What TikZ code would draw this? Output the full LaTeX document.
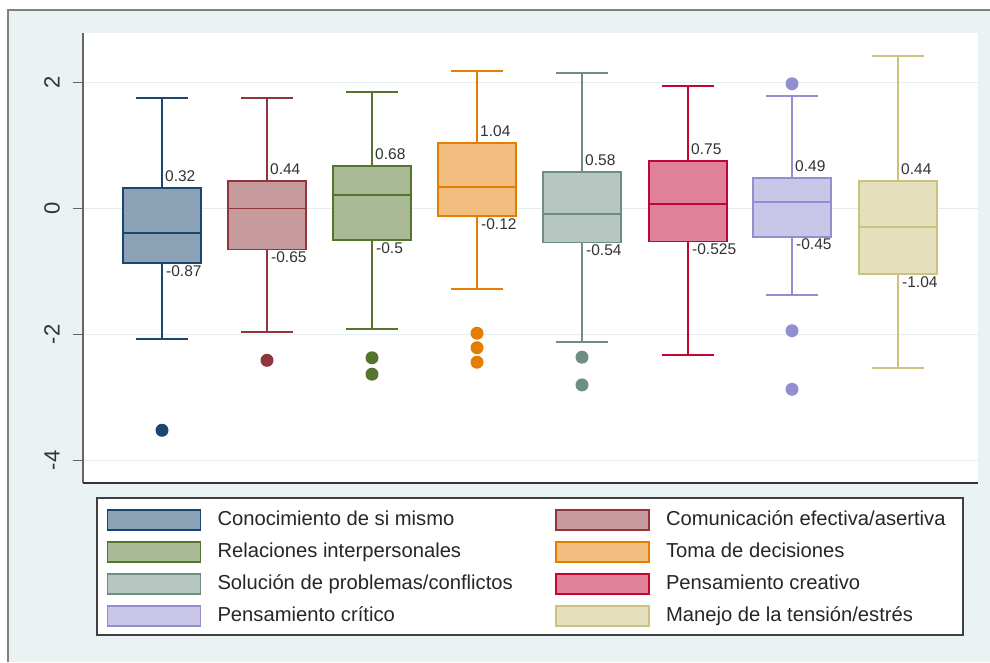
\documentclass[tikz,border=0pt]{standalone}
\usepackage{fontspec}
\setmainfont{Liberation Sans}
\usepackage{tikz}
\usetikzlibrary{positioning}
\usepackage{xcolor}
\definecolor{sknavy}{RGB}{26,71,111}
\definecolor{skmaroon}{RGB}{144,53,59}
\definecolor{skgreen}{RGB}{85,117,47}
\definecolor{skorange}{RGB}{227,126,0}
\definecolor{skteal}{RGB}{110,142,132}
\definecolor{skcranberry}{RGB}{193,5,52}
\definecolor{sklavender}{RGB}{147,141,210}
\definecolor{skkhaki}{RGB}{202,194,126}
\definecolor{skbg}{RGB}{234,242,243}
\definecolor{skgrid}{RGB}{228,238,240}
\definecolor{sktext}{RGB}{50,50,50}
\tikzstyle{whisker} = [line width=1.8pt]
\tikzstyle{boxline} = [line width=1.8pt]
\tikzstyle{qlabel} = [font=\fontsize{15.5}{18}\selectfont, text=sktext, inner sep=2pt]
\tikzstyle{ticklabel} = [font=\fontsize{22}{26}\selectfont, text=sktext, rotate=90]
\tikzstyle{legkey} = [rectangle, minimum width=93pt, minimum height=20pt, line width=1.6pt, inner sep=0pt]
\tikzstyle{legtext} = [font=\fontsize{20.2}{24}\selectfont, text=black!85, inner sep=0pt, text height=14.6pt, text depth=4.2pt, anchor=west]

% one box: name, x, colour, low whisker, Q1, median, Q3, high whisker
\newcommand{\skillbox}[8]{%
  \draw[whisker, #3] (#2,#4) -- (#2,#5) (#2,#7) -- (#2,#8)
    (#2-26,#4) -- (#2+26,#4) (#2-26,#8) -- (#2+26,#8);
  \draw[boxline, draw=#3, fill=#3!50!white] (#2-39,#5) rectangle (#2+39,#7);
  \draw[boxline, #3] (#2-39,#6) -- (#2+39,#6);
  \node[qlabel, anchor=south west, yshift=4pt] (#1-q3) at (#2+1,#7) {#7};
  \node[qlabel, anchor=north west] (#1-q1) at (#2+2,#5) {#5};
}

\begin{document}
\begin{tikzpicture}[x=1pt, y=-1pt]
\useasboundingbox (0,0) rectangle (990,662);

% background and frame
\fill[skbg] (8,10) rectangle (990,662);
\draw[gray, line width=1.2pt] (8,662) -- (8,10) -- (990,10);

% plot region
\fill[white] (83,33) rectangle (978,483);
\foreach \gy in {82.5,208.5,334.5,460.5}
  \draw[skgrid, line width=1.4pt] (83,\gy) -- (978,\gy);
\draw[black!60, line width=1.5pt] (83,33) -- (83,483);
\draw[black!80, line width=1.5pt] (83,483) -- (978,483);

% y axis ticks
\draw[black!60, line width=1.5pt] (73,82.5) -- (83,82.5) (73,208.5) -- (83,208.5)
  (73,334.5) -- (83,334.5) (73,460.5) -- (83,460.5);
\node[ticklabel] (tick2) at (52,82.5) {2};
\node[ticklabel] (tick0) at (52,208.5) {0};
\node[ticklabel] (tickm2) at (52,334.5) {-2};
\node[ticklabel] (tickm4) at (52,460.5) {-4};

% boxes, in data units
\begin{scope}[shift={(0,208.5)}, y=63pt]
\skillbox{cono}{162}{sknavy}{-2.07}{-0.87}{-0.39}{0.32}{1.75}
\skillbox{comu}{267}{skmaroon}{-1.96}{-0.65}{0}{0.44}{1.75}
\skillbox{rela}{372}{skgreen}{-1.91}{-0.5}{0.21}{0.68}{1.85}
\skillbox{toma}{477}{skorange}{-1.28}{-0.12}{0.34}{1.04}{2.18}
\skillbox{solu}{582}{skteal}{-2.12}{-0.54}{-0.09}{0.58}{2.15}
\skillbox{crea}{688}{skcranberry}{-2.33}{-0.525}{0.07}{0.75}{1.94}
\skillbox{crit}{792}{sklavender}{-1.37}{-0.45}{0.10}{0.49}{1.79}
\skillbox{tens}{898}{skkhaki}{-2.53}{-1.04}{-0.29}{0.44}{2.42}

% outliers
\fill[sknavy] (162,-3.52) circle (6.5pt);
\fill[skmaroon] (267,-2.41) circle (6.5pt);
\fill[skgreen] (372,-2.37) circle (6.5pt) (372,-2.63) circle (6.5pt);
\fill[skorange] (477,-1.98) circle (6.5pt) (477,-2.21) circle (6.5pt) (477,-2.44) circle (6.5pt);
\fill[skteal] (582,-2.36) circle (6.5pt) (582,-2.80) circle (6.5pt);
\fill[sklavender] (792,1.98) circle (6.5pt) (792,-1.94) circle (6.5pt) (792,-2.87) circle (6.5pt);
\end{scope}

% legend
\draw[black!75, fill=white, line width=1.2pt] (97,498) rectangle (963,635);
\node[legkey, draw=sknavy, fill=sknavy!50!white] (key1) at (154,520) {};
\node[legtext, right=16pt of key1] (leg1) {Conocimiento de si mismo};
\node[legkey, draw=skgreen, fill=skgreen!50!white] (key3) at (154,552) {};
\node[legtext, right=16pt of key3] (leg3) {Relaciones interpersonales};
\node[legkey, draw=skteal, fill=skteal!50!white] (key5) at (154,584) {};
\node[legtext, right=16pt of key5] (leg5) {Solución de problemas/conflictos};
\node[legkey, draw=sklavender, fill=sklavender!50!white] (key7) at (154,616) {};
\node[legtext, right=16pt of key7] (leg7) {Pensamiento crítico};

\node[legkey, draw=skmaroon, fill=skmaroon!50!white] (key2) at (602.5,520) {};
\node[legtext, right=16pt of key2] (leg2) {Comunicación efectiva/asertiva};
\node[legkey, draw=skorange, fill=skorange!50!white] (key4) at (602.5,552) {};
\node[legtext, right=16pt of key4] (leg4) {Toma de decisiones};
\node[legkey, draw=skcranberry, fill=skcranberry!50!white] (key6) at (602.5,584) {};
\node[legtext, right=16pt of key6] (leg6) {Pensamiento creativo};
\node[legkey, draw=skkhaki, fill=skkhaki!50!white] (key8) at (602.5,616) {};
\node[legtext, right=16pt of key8] (leg8) {Manejo de la tensión/estrés};
\end{tikzpicture}
\end{document}
